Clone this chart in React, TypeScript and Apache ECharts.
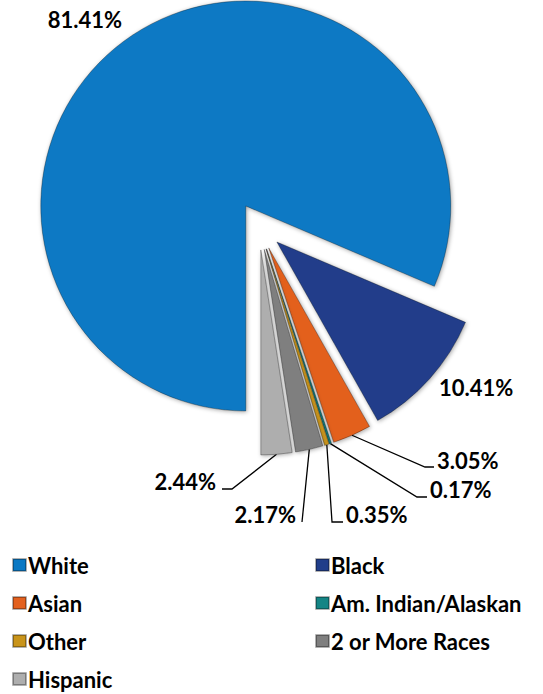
import React, { useEffect, useRef } from "react";
import * as echarts from "echarts";

const categories = [
  "White",
  "Black",
  "Asian",
  "Am. Indian/Alaskan",
  "Other",
  "2 or More Races",
  "Hispanic",
];
const values = [81.41, 10.41, 3.05, 0.17, 0.35, 2.17, 2.44];
const colors = ["#0B79C4", "#213E8A", "#E3611F", "#148585", "#C9941A", "#7F7F7F", "#AEAEAE"];
const leftLegend = ["White", "Asian", "Other", "Hispanic"];
const rightLegend = ["Black", "Am. Indian/Alaskan", "2 or More Races"];

// label placements (label anchor + leader line bends)
const guides: Record<number, { pts: number[][]; x: number; y: number; align: string }> = {
  0: { pts: [], x: 122, y: 19, align: "right" },
  1: { pts: [], x: 439, y: 387, align: "left" },
  2: { pts: [[425, 467], [434, 467]], x: 437, y: 460, align: "left" },
  3: { pts: [[417, 497], [427, 497]], x: 430, y: 489, align: "left" },
  4: { pts: [[332, 522], [343, 522]], x: 346, y: 514, align: "left" },
  5: { pts: [[302, 522]], x: 296, y: 514, align: "right" },
  6: { pts: [[232, 489], [222, 489]], x: 216, y: 481, align: "right" },
};

const FONT = "Lato, 'Noto Sans', sans-serif";
const CENTER = [259, 226];
const RADIUS = 205;
const OFFSET = 24;

export default function App() {
  const ref = useRef<HTMLDivElement>(null);
  useEffect(() => {
    if (!ref.current) return;
    const chart = echarts.init(ref.current, undefined, { renderer: "svg" });
    const visualData = categories.map((name, i) => ({
      name,
      value: values[i],
      selected: true,
      itemStyle: { color: colors[i] },
    }));
    const labelData = categories.map((name, i) => ({
      name,
      value: values[i],
      labelLine: { show: i >= 2 },
    }));
    const legendBase = {
      orient: "vertical" as const,
      top: 554,
      height: 140,
      padding: 0,
      itemWidth: 13,
      itemHeight: 12,
      itemGap: 16,
      icon: "rect",
      selectedMode: false,
      textStyle: {
        fontFamily: FONT,
        fontWeight: "bold" as const,
        fontSize: 22,
        lineHeight: 22,
        color: "#000",
        padding: [0, 0, 0, -3],
      },
    };
    chart.setOption({
      animation: false,
      color: colors,
      legend: [
        { ...legendBase, left: 12, data: leftLegend },
        { ...legendBase, left: 315, data: rightLegend },
      ],
      series: [
        {
          type: "pie",
          name: "visual",
          center: CENTER,
          radius: RADIUS,
          startAngle: -90,
          clockwise: true,
          selectedMode: "multiple",
          selectedOffset: OFFSET,
          emphasis: { disabled: true },
          itemStyle: {
            borderColor: "rgba(0,0,0,0.3)",
            borderWidth: 1,
            shadowBlur: 4,
            shadowColor: "rgba(0,0,0,0.35)",
            shadowOffsetX: 1,
            shadowOffsetY: 1,
          },
          label: { show: false },
          labelLine: { show: false },
          data: visualData,
        },
        {
          type: "pie",
          name: "labels",
          center: CENTER,
          radius: RADIUS,
          startAngle: -90,
          clockwise: true,
          silent: true,
          avoidLabelOverlap: false,
          emphasis: { disabled: true },
          itemStyle: { color: "rgba(0,0,0,0)", borderWidth: 0 },
          label: {
            show: true,
            position: "outside",
            formatter: (p: any) => p.value.toFixed(2) + "%",
            fontFamily: FONT,
            fontWeight: "bold",
            fontSize: 22,
            color: "#000",
          },
          labelLine: {
            show: true,
            length: 10,
            length2: 10,
            smooth: false,
            lineStyle: { color: "#000", width: 1.3 },
          },
          labelLayout: (params: any) => {
            const g = guides[params.dataIndex];
            if (!g) return {};
            const out: any = {
              x: g.x,
              y: g.y,
              align: g.align,
              verticalAlign: "middle",
            };
            if (g.pts.length && params.labelLinePoints) {
              // push the start point out to the exploded slice's edge
              const s = params.labelLinePoints[0];
              const vx = s[0] - CENTER[0];
              const vy = s[1] - CENTER[1];
              const len = Math.sqrt(vx * vx + vy * vy) || 1;
              const start = [s[0] + (vx / len) * OFFSET, s[1] + (vy / len) * OFFSET];
              out.labelLinePoints = [start, ...g.pts];
            }
            return out;
          },
          data: labelData,
        },
      ],
    });
    return () => chart.dispose();
  }, []);
  return (
    <div
      ref={ref}
      style={{ position: "absolute", left: 0, top: 0, width: 543, height: 694 }}
    />
  );
}
